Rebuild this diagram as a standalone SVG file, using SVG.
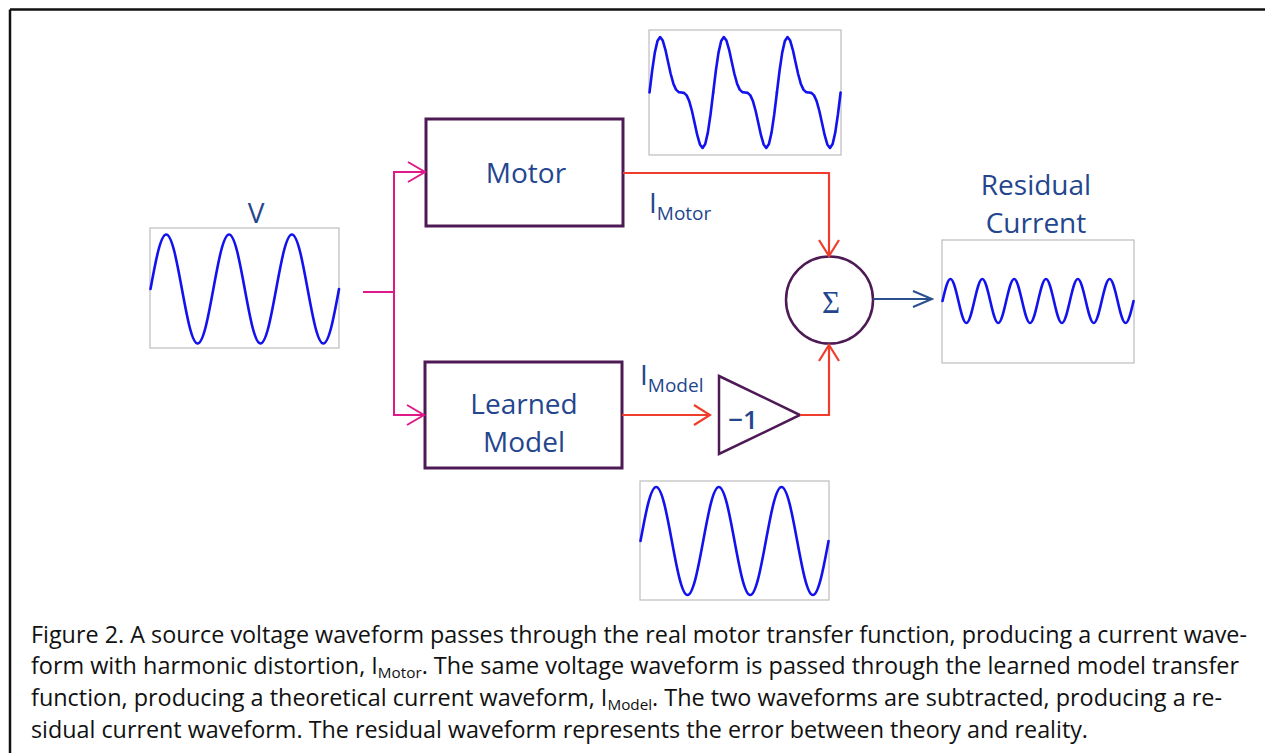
<svg xmlns="http://www.w3.org/2000/svg" xmlns:xlink="http://www.w3.org/1999/xlink" width="1265" height="753" viewBox="0 0 1265 753">
<style>
.lbl{font-family:"Open Sans","DejaVu Sans",sans-serif;fill:#24468e;font-size:28px;font-weight:500}
.sub{font-size:19px}
.box{fill:#fff;stroke:#4e1a55;stroke-width:3}
.wbox{fill:#fff;stroke:#bdbdbd;stroke-width:1.2}
.wave{fill:none;stroke:#1212ee;stroke-width:2.6;stroke-linejoin:round;stroke-linecap:round}
.pink{fill:none;stroke:#e0198a;stroke-width:2}
.red{fill:none;stroke:#f03d2b;stroke-width:2.2}
.blue{fill:none;stroke:#2c4f8f;stroke-width:2.2}
.cap{font-family:"Open Sans","Liberation Sans",sans-serif;font-size:23px;fill:#111}
.csub{font-size:15px}
</style>
<defs>
<marker id="mp" markerUnits="userSpaceOnUse" viewBox="-20 -12 22 24" markerWidth="22" markerHeight="24" refX="0" refY="0" orient="auto"><path d="M-17,-10 L0,0 L-17,10" fill="none" stroke="#e0198a" stroke-width="2"/></marker>
<marker id="mr" markerUnits="userSpaceOnUse" viewBox="-20 -12 22 24" markerWidth="22" markerHeight="24" refX="0" refY="0" orient="auto"><path d="M-16,-10 L0,0 L-16,10" fill="none" stroke="#f03d2b" stroke-width="2.2"/></marker>
<marker id="mb" markerUnits="userSpaceOnUse" viewBox="-22 -12 24 24" markerWidth="24" markerHeight="24" refX="0" refY="0" orient="auto"><path d="M-19,-8 L0,0 L-19,8" fill="none" stroke="#2c4f8f" stroke-width="2.2"/></marker>
<polyline id="mw" class="wave" points="0,92.5 2.65,70.77 5.31,52.66 7.96,40.96 10.62,37.03 13.27,40.58 15.93,49.8 18.58,61.93 21.23,74.01 23.89,83.66 26.54,89.64 29.2,92.12 31.85,92.5 34.5,92.88 37.16,95.36 39.81,101.34 42.47,110.99 45.12,123.07 47.78,135.2 50.43,144.42 53.08,147.97 55.74,144.04 58.39,132.34 61.05,114.23 63.7,92.5"/>
</defs>
<rect x="0" y="0" width="1265" height="753" fill="#fff"/>
<g id="frame" fill="none" stroke="#111" stroke-width="2.5">
<path d="M10,9.5 H1265 M10,9.5 V753"/>
</g>

<g id="v-source">
<text class="lbl" x="256" y="223" text-anchor="middle">V</text>
<rect class="wbox" x="150" y="228" width="189" height="120"/>
<path class="wave" d="M150.5,289 c5.12,-27.92 10.02,-54.5 15.71,-54.5 c5.69,0 10.59,26.58 15.71,54.5 c5.12,27.92 10.02,54.5 15.71,54.5 c5.69,0 10.59,-26.58 15.71,-54.5 c5.12,-27.92 10.02,-54.5 15.71,-54.5 c5.69,0 10.59,26.58 15.71,54.5 c5.12,27.92 10.02,54.5 15.71,54.5 c5.69,0 10.59,-26.58 15.71,-54.5 c5.12,-27.92 10.02,-54.5 15.71,-54.5 c5.69,0 10.59,26.58 15.71,54.5 c5.12,27.92 10.02,54.5 15.71,54.5 c5.69,0 10.59,-26.58 15.71,-54.5"/>
</g>

<g id="motor">
<rect class="box" x="426" y="119" width="197" height="107"/>
<text class="lbl" x="526" y="183" text-anchor="middle">Motor</text>
</g>

<g id="motor-wave">
<rect class="wbox" x="649" y="30" width="192" height="125"/>
<use xlink:href="#mw" href="#mw" x="649.5" y="0"/>
<use xlink:href="#mw" href="#mw" x="713.2" y="0"/>
<use xlink:href="#mw" href="#mw" x="776.9" y="0"/>
</g>

<g id="model">
<rect class="box" x="425" y="362" width="197" height="106"/>
<text class="lbl" x="524" y="414" text-anchor="middle">Learned</text>
<text class="lbl" x="524" y="452" text-anchor="middle">Model</text>
</g>

<g id="model-wave">
<rect class="wbox" x="640" y="481" width="189" height="119"/>
<path class="wave" d="M640.5,541 c5.11,-27.66 10,-54 15.67,-54 c5.67,0 10.56,26.34 15.67,54 c5.11,27.66 10,54 15.67,54 c5.67,0 10.56,-26.34 15.67,-54 c5.11,-27.66 10,-54 15.67,-54 c5.67,0 10.56,26.34 15.67,54 c5.11,27.66 10,54 15.67,54 c5.67,0 10.56,-26.34 15.67,-54 c5.11,-27.66 10,-54 15.67,-54 c5.67,0 10.56,26.34 15.67,54 c5.11,27.66 10,54 15.67,54 c5.67,0 10.56,-26.34 15.67,-54"/>
</g>

<g id="inverter">
<path d="M719,376 L800,415 L719,454 Z" fill="#fff" stroke="#4e1a55" stroke-width="2.5" stroke-linejoin="miter"/>
<text class="lbl" x="743" y="429" text-anchor="middle" style="font-size:26px;font-weight:600">−1</text>
</g>

<g id="sum">
<circle cx="829.5" cy="300" r="43.5" fill="#fff" stroke="#4e1a55" stroke-width="2.5"/>
<text x="831" y="313" text-anchor="middle" font-family="'Liberation Serif','DejaVu Serif',serif" font-size="31" fill="#24468e">Σ</text>
</g>

<g id="residual">
<text class="lbl" x="1036" y="195" text-anchor="middle">Residual</text>
<text class="lbl" x="1036" y="233" text-anchor="middle">Current</text>
<rect class="wbox" x="942" y="240" width="192" height="123"/>
<path class="wave" d="M942.5,301 c2.6,-11.27 5.08,-22 7.96,-22 c2.88,0 5.36,10.73 7.96,22 c2.6,11.27 5.08,22 7.96,22 c2.88,0 5.36,-10.73 7.96,-22 c2.6,-11.27 5.08,-22 7.96,-22 c2.88,0 5.36,10.73 7.96,22 c2.6,11.27 5.08,22 7.96,22 c2.88,0 5.36,-10.73 7.96,-22 c2.6,-11.27 5.08,-22 7.96,-22 c2.88,0 5.36,10.73 7.96,22 c2.6,11.27 5.08,22 7.96,22 c2.88,0 5.36,-10.73 7.96,-22 c2.6,-11.27 5.08,-22 7.96,-22 c2.88,0 5.36,10.73 7.96,22 c2.6,11.27 5.08,22 7.96,22 c2.88,0 5.36,-10.73 7.96,-22 c2.6,-11.27 5.08,-22 7.96,-22 c2.88,0 5.36,10.73 7.96,22 c2.6,11.27 5.08,22 7.96,22 c2.88,0 5.36,-10.73 7.96,-22 c2.6,-11.27 5.08,-22 7.96,-22 c2.88,0 5.36,10.73 7.96,22 c2.6,11.27 5.08,22 7.96,22 c2.88,0 5.36,-10.73 7.96,-22"/>
</g>

<g id="connectors">
<path class="pink" d="M363,292 H394 M394,171 V416"/>
<path class="pink" d="M393,172 H425" marker-end="url(#mp)"/>
<path class="pink" d="M393,415 H424" marker-end="url(#mp)"/>
<path class="red" d="M623,173 H829 V256" marker-end="url(#mr)"/>
<path class="red" d="M622,415 H710" marker-end="url(#mr)"/>
<path class="red" d="M800,415 H829 V345" marker-end="url(#mr)"/>
<path class="blue" d="M873,299 H932" marker-end="url(#mb)"/>
<text class="lbl" x="649" y="213">I<tspan class="sub" dy="7">Motor</tspan></text>
<text class="lbl" x="640" y="385">I<tspan class="sub" dy="7">Model</tspan></text>
</g>

<g id="caption">
<text class="cap" x="31" y="643" textLength="1216" lengthAdjust="spacingAndGlyphs">Figure 2. A source voltage waveform passes through the real motor transfer function, producing a current wave-</text>
<text class="cap" x="31" y="674" textLength="1208" lengthAdjust="spacingAndGlyphs">form with harmonic distortion, I<tspan class="csub" dy="4">Motor</tspan><tspan dy="-4">. The same voltage waveform is passed through the learned model transfer</tspan></text>
<text class="cap" x="31" y="706" textLength="1191" lengthAdjust="spacingAndGlyphs">function, producing a theoretical current waveform, I<tspan class="csub" dy="4">Model</tspan><tspan dy="-4">. The two waveforms are subtracted, producing a re-</tspan></text>
<text class="cap" x="31" y="738" textLength="1057" lengthAdjust="spacingAndGlyphs">sidual current waveform. The residual waveform represents the error between theory and reality.</text>
</g>
</svg>
